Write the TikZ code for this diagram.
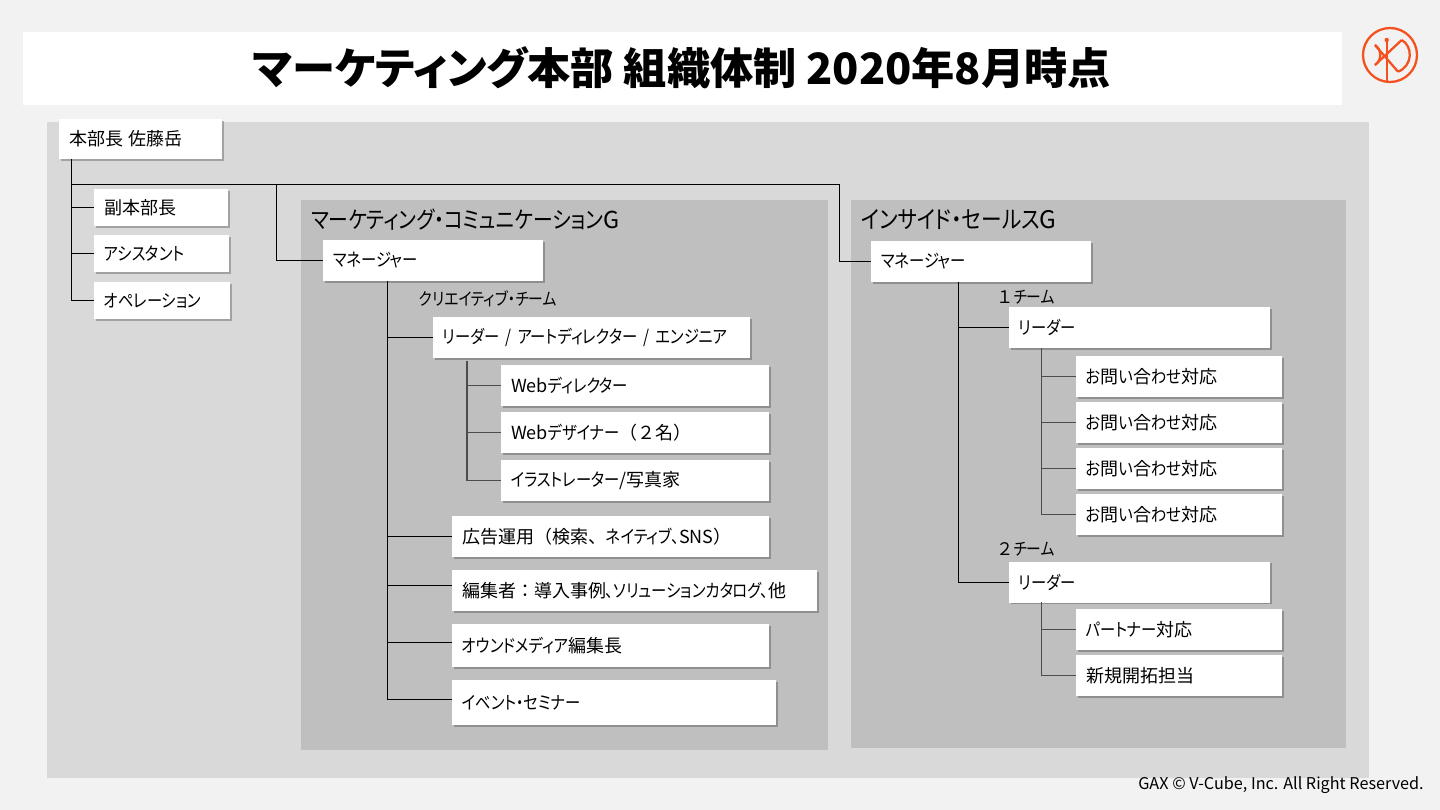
\documentclass[tikz,border=0pt]{standalone}
\usepackage{fontspec}
\setmainfont{Noto Sans CJK JP}
\newfontfamily\titlefont{Noto Sans CJK JP}[RawFeature=+palt]
\newfontfamily\narrowfont{Noto Sans CJK JP}[RawFeature=+palt, FakeStretch=.85]
\newcommand{\kn}[1]{{\narrowfont #1}}
\newcommand{\inquiry}{\kn{お}問\kn{い}合\kn{わせ}対応}
\usetikzlibrary{shadows}
\definecolor{pagegray}{HTML}{F2F2F2}
\definecolor{outergray}{HTML}{D9D9D9}
\definecolor{innergray}{HTML}{BFBFBF}
\definecolor{logoorange}{HTML}{F4511E}
\tikzset{
  box/.style n args={2}{fill=white, drop shadow={shadow xshift=1.4pt, shadow yshift=-1.4pt, fill=black, opacity=.25},
    inner xsep=7.5pt, inner ysep=0pt, align=left, text width={#1*0.75pt-15pt}, minimum height={#2*0.75pt},
    font=\fontsize{13.5pt}{15pt}\selectfont},
  heading/.style={anchor=west, inner sep=0pt, font=\fontsize{17.5pt}{20pt}\selectfont},
  teamlabel/.style={anchor=west, inner sep=0pt, font=\fontsize{13pt}{15pt}\selectfont},
  edge/.style={draw=black, line width=.75pt},
  subedge/.style={draw=black!70, line width=.9pt},
  logoline/.style={logoorange, line width=1.7pt}
}
\begin{document}
\begin{tikzpicture} [x=.75pt, y=-.75pt]
    \useasboundingbox (0,0) rectangle (1440,810);
    % panels
    \fill [pagegray] (0,0) rectangle (1440,810);
    \fill [white] (23,32) rectangle (1342,105);
    \fill [outergray] (47,122) rectangle (1369,778);
    \fill [innergray] (301,200) rectangle (828,750);
    \fill [innergray] (851,200) rectangle (1346,748);
    % title and footer
    \node [inner sep=0pt, font=\titlefont\fontsize{32.4pt}{36pt}\selectfont\bfseries] (title) at (682,68) {マーケティング本部 組織体制 2020年8月時点};
    \node [anchor=east, inner sep=0pt, font=\fontsize{12.15pt}{14pt}\selectfont] (footer) at (1424,785) {GAX © V-Cube, Inc. All Right Reserved.};
    % logo
    \draw [logoline] (1390,55) circle [radius=27];
    \draw [logoline] (1386.7,82) -- (1386.7,40);
    \draw [logoline] (1375,45) -- (1398,71.7);
    \draw [logoline] (1375,65) -- (1401.7,40);
    \draw [logoline] (1375,45) .. controls (1382,50) and (1382,60) .. (1375,65);
    \draw [logoline] (1401.7,40) .. controls (1413,46) and (1413,66) .. (1398,71.7);
    \fill [logoorange] (1386.7,40) circle [radius=2.2];
    % place nodes
    \node [box={163}{40}] (chief) at (140.5,139) {本部長 佐藤岳};
    \node [box={134}{37}] (vice) at (161,207.5) {副本部長};
    \node [box={135}{37}] (assistant) at (161.5,253.5) {\kn{アシスタント}};
    \node [box={136}{37}] (operation) at (162,300.5) {\kn{オペレーション}};
    % marketing group
    \node [heading] (mktHead) at (311,220) {\kn{マーケティング・コミュニケーション}G};
    \node [box={220}{41}] (mktMgr) at (433,260.5) {\kn{マネージャー}};
    \node [teamlabel] (creative) at (419,299) {\kn{クリエイティブ・チーム}};
    \node [box={317}{41}] (creLead) at (591.5,337.5) {\kn{リーダー / アートディレクター / エンジニア}};
    \node [box={268}{41}] (webDir) at (635,385.5) {Web\kn{ディレクター}};
    \node [box={268}{41}, below of = webDir, node distance=35.25pt] (webDes) {Web\kn{デザイナー}（２名）};
    \node [box={268}{41}, below of = webDes, node distance=36pt] (illust) {\kn{イラストレーター}/写真家};
    \node [box={317}{41}] (ads) at (610.5,536.5) {広告運用（検索、\kn{ネイティブ、}SNS）};
    \node [box={365}{41}] (editor) at (634.5,590.5) {編集者：導入事例\kn{、ソリューションカタログ、}他};
    \node [box={317}{43}] (owned) at (610.5,645.5) {\kn{オウンドメディア}編集長};
    \node [box={324}{45}] (event) at (614,702.5) {\kn{イベント・セミナー}};
    % inside sales group
    \node [heading, font=\fontsize{18.2pt}{20pt}\selectfont] (insHead) at (861,220) {\kn{インサイド・セールス}G};
    \node [box={220}{41}] (insMgr) at (981,261.5) {\kn{マネージャー}};
    \node [teamlabel] (teamOne) at (996,297) {１\kn{チーム}};
    \node [box={261}{41}] (leadOne) at (1139.5,327.5) {\kn{リーダー}};
    \node [box={206}{41}] (inqA) at (1179,376.5) {\inquiry};
    \node [box={206}{41}, below of = inqA, node distance=34.5pt] (inqB) {\inquiry};
    \node [box={206}{41}, below of = inqB, node distance=34.5pt] (inqC) {\inquiry};
    \node [box={206}{41}, below of = inqC, node distance=34.5pt] (inqD) {\inquiry};
    \node [teamlabel] (teamTwo) at (996,549) {２\kn{チーム}};
    \node [box={261}{41}] (leadTwo) at (1139.5,582) {\kn{リーダー}};
    \node [box={206}{41}] (partner) at (1179,629.5) {\kn{パートナー}対応};
    \node [box={206}{41}, below of = partner, node distance=34.5pt] (newBiz) {新規開拓担当};
    % trunk points
    \coordinate (chiefTrunk) at (71.5,159);
    \coordinate (busStart) at (71.5,184.5);
    \coordinate (busMkt) at (276.5,184.5);
    \coordinate (busIns) at (839.5,184.5);
    \coordinate (mktTrunk) at (387.5,281);
    \coordinate (creTrunk) at (467,361);
    \coordinate (insTrunk) at (958.5,282);
    \coordinate (oneTrunk) at (1041.5,348);
    \coordinate (twoTrunk) at (1041.5,602);
    % draw edges
    \draw [edge] (chiefTrunk) |- (vice.west);
    \draw [edge] (chiefTrunk) |- (assistant.west);
    \draw [edge] (chiefTrunk) |- (operation.west);
    \draw [edge] (busStart) -- (busIns) |- (insMgr.west);
    \draw [edge] (busMkt) |- (mktMgr.west);
    \draw [edge] (mktTrunk) |- (creLead.west);
    \draw [edge] (mktTrunk) |- (ads.west);
    \draw [edge] (mktTrunk) |- ([yshift=3.75pt]editor.west);
    \draw [edge] (mktTrunk) |- ([yshift=2.25pt]owned.west);
    \draw [edge] (mktTrunk) |- ([yshift=2.25pt]event.west);
    \draw [subedge] (creTrunk) |- (webDir.west);
    \draw [subedge] (creTrunk) |- (webDes.west);
    \draw [subedge] (creTrunk) |- (illust.west);
    \draw [edge] (insTrunk) |- (leadOne.west);
    \draw [edge] (insTrunk) |- (leadTwo.west);
    \draw [subedge] (oneTrunk) |- (inqA.west);
    \draw [subedge] (oneTrunk) |- (inqB.west);
    \draw [subedge] (oneTrunk) |- (inqC.west);
    \draw [subedge] (oneTrunk) |- (inqD.west);
    \draw [subedge] (twoTrunk) |- (partner.west);
    \draw [subedge] (twoTrunk) |- (newBiz.west);
\end{tikzpicture}
\end{document}
